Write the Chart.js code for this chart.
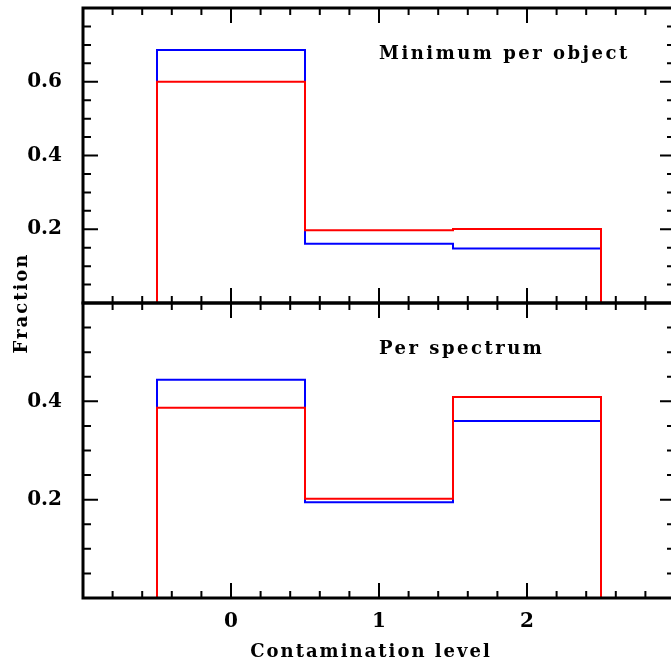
<!DOCTYPE html>
<html>
<head>
<meta charset="utf-8">
<script src="https://cdn.jsdelivr.net/npm/chart.js@4.4.0/dist/chart.umd.min.js"></script>
<style>
html, body { margin: 0; padding: 0; background: #fff; overflow: hidden; }
#wrap { position: relative; width: 671px; height: 664px; overflow: hidden; }
canvas { position: absolute; left: 0; top: 0; }
</style>
</head>
<body>
<div id="wrap">
  <canvas id="topChart" width="690" height="310"></canvas>
  <canvas id="bottomChart" width="690" height="664"></canvas>
</div>
<script>
// Niveaux de contamination (centres et bords des classes)
const levels = [0, 1, 2];
const binEdges = [-0.5, 0.5, 1.5, 2.5];
const xTickLabels = ['0', '1', '2'];

// Panneau du haut : minimum par objet
const topBlue = [0.686, 0.161, 0.148];
const topRed = [0.600, 0.197, 0.201];
const topYLabels = [0.2, 0.4, 0.6];

// Panneau du bas : par spectre
const bottomBlue = [0.444, 0.195, 0.360];
const bottomRed = [0.387, 0.202, 0.409];
const bottomYLabels = [0.2, 0.4];

const FONT = '"DejaVu Serif"';

// Construit le contour d'histogramme (descend à zéro aux deux bouts)
function stepPoints(values) {
    const pts = [{ x: binEdges[0], y: 0 }];
    values.forEach((v, i) => pts.push({ x: binEdges[i], y: v }));
    pts.push({ x: binEdges[binEdges.length - 1], y: 0 });
    return pts;
}

function isMajor(v, step) {
    return Math.abs(v / step - Math.round(v / step)) < 1e-6;
}

// Cadre épais + graduations vers l'intérieur + textes
const framePlugin = {
    id: 'frame',
    afterDraw(chart, args, opts) {
        const { ctx, chartArea: a } = chart;
        const xs = chart.scales.x;
        const ys = chart.scales.y;
        ctx.save();
        ctx.strokeStyle = '#000';
        ctx.lineWidth = 2;
        ctx.beginPath();
        xs.ticks.forEach(t => {
            const px = xs.getPixelForValue(t.value);
            const len = isMajor(t.value, 1) ? 15 : 7;
            ctx.moveTo(px, a.top); ctx.lineTo(px, a.top + len);
            ctx.moveTo(px, a.bottom); ctx.lineTo(px, a.bottom - len);
        });
        ys.ticks.forEach(t => {
            const py = ys.getPixelForValue(t.value);
            const len = isMajor(t.value, 0.2) ? 15 : 8;
            ctx.moveTo(a.left, py); ctx.lineTo(a.left + len, py);
            ctx.moveTo(a.right, py); ctx.lineTo(a.right - len, py);
        });
        ctx.stroke();
        ctx.lineWidth = 3;
        ctx.strokeRect(a.left, a.top, a.right - a.left, a.bottom - a.top);

        ctx.fillStyle = '#000';
        (opts.texts || []).forEach(t => {
            ctx.save();
            ctx.font = 'bold 18px ' + FONT;
            ctx.letterSpacing = t.spacing || '0px';
            ctx.textAlign = t.align || 'left';
            ctx.textBaseline = 'alphabetic';
            const px = t.data ? xs.getPixelForValue(t.x) : t.x;
            const py = t.data ? ys.getPixelForValue(t.y) : t.y;
            ctx.translate(px, py);
            if (t.rotate) ctx.rotate(-Math.PI / 2);
            ctx.fillText(t.text, 0, 0);
            ctx.restore();
        });
        ctx.restore();
    }
};

function makeChart(id, blue, red, yMax, yLabels, showX, padding, texts) {
    const ctx = document.getElementById(id).getContext('2d');
    return new Chart(ctx, {
        type: 'line',
        data: {
            datasets: [
                { data: stepPoints(red), borderColor: '#ff0000', borderWidth: 2, stepped: true, pointRadius: 0, fill: false, clip: false },
                { data: stepPoints(blue), borderColor: '#0000ff', borderWidth: 2, stepped: true, pointRadius: 0, fill: false, clip: false }
            ]
        },
        options: {
            responsive: false,
            animation: false,
            events: [],
            layout: { padding: padding },
            plugins: {
                legend: { display: false },
                tooltip: { enabled: false },
                frame: { texts: texts }
            },
            scales: {
                x: {
                    type: 'linear',
                    min: -1,
                    max: 3,
                    grid: { display: false },
                    border: { display: false },
                    afterFit: s => {
                        s.height = showX ? 66 : 0;
                        s.paddingLeft = 0; s.paddingRight = 0;
                    },
                    ticks: {
                        display: showX,
                        stepSize: 0.2,
                        autoSkip: false,
                        maxRotation: 0,
                        padding: 4,
                        color: '#000',
                        font: { family: FONT, size: 20, weight: 'bold' },
                        callback: v => {
                            if (!isMajor(v, 1)) return '';
                            const i = levels.indexOf(Math.round(v));
                            return i >= 0 ? xTickLabels[i] : '';
                        }
                    }
                },
                y: {
                    min: 0,
                    max: yMax,
                    grid: { display: false },
                    border: { display: false },
                    afterFit: s => {
                        s.width = 83;
                        s.paddingTop = 0; s.paddingBottom = 0;
                    },
                    ticks: {
                        stepSize: 0.05,
                        autoSkip: false,
                        padding: 13,
                        color: '#000',
                        font: { family: FONT, size: 20, weight: 'bold' },
                        callback: v => yLabels.some(l => Math.abs(l - v) < 1e-6) ? v.toFixed(1) : ''
                    }
                }
            }
        },
        plugins: [framePlugin]
    });
}

makeChart('topChart', topBlue, topRed, 0.8, topYLabels, false,
    { left: 0, right: 15, top: 8, bottom: 7 },
    [{ text: 'Minimum per object', data: true, x: 1.0, y: 0.661, spacing: '2.5px' }]);

makeChart('bottomChart', bottomBlue, bottomRed, 0.6, bottomYLabels, true,
    { left: 0, right: 15, top: 303, bottom: 0 },
    [
        { text: 'Per spectrum', data: true, x: 1.0, y: 0.497, spacing: '2.5px' },
        { text: 'Contamination level', x: 371, y: 657, align: 'center', spacing: '2px' },
        { text: 'Fraction', x: 27, y: 303, align: 'center', rotate: true, spacing: '2px' }
    ]);
</script>
</body>
</html>
